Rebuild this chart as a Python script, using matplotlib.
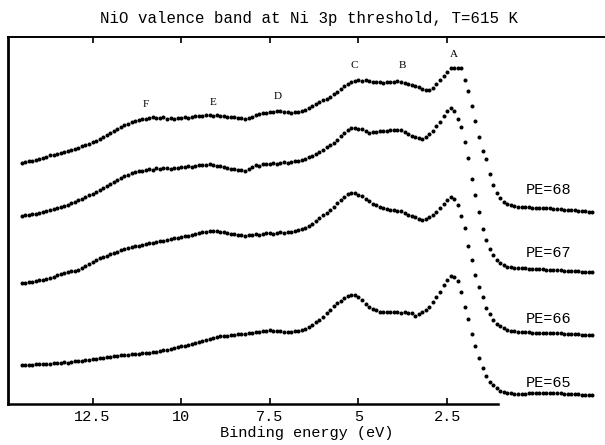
import numpy as np
import matplotlib
matplotlib.use("Agg")
import matplotlib.pyplot as plt

# Binding energy grid (eV), 0.1 eV step, from 14.5 down to -1.6
energy = np.round(np.arange(14.5, -1.65, -0.1), 2)

# Stacked spectra (arbitrary units, already vertically offset as in the figure)
pe68 = [24.1,24.2,24.3,24.3,24.4,24.5,24.6,24.7,24.9,24.9,
        25.0,25.1,25.2,25.3,25.4,25.5,25.6,25.8,25.9,26.0,
        26.2,26.3,26.5,26.7,26.9,27.1,27.3,27.5,27.7,27.9,
        28.0,28.2,28.3,28.4,28.5,28.5,28.6,28.7,28.6,28.6,
        28.7,28.5,28.6,28.5,28.6,28.6,28.7,28.6,28.7,28.8,
        28.8,28.8,28.9,28.9,28.8,28.9,28.8,28.8,28.7,28.7,
        28.7,28.6,28.6,28.5,28.6,28.7,28.9,29.0,29.1,29.1,
        29.2,29.2,29.3,29.3,29.2,29.2,29.1,29.2,29.2,29.3,
        29.4,29.6,29.8,30.0,30.2,30.4,30.5,30.7,31.0,31.2,
        31.5,31.8,32.0,32.2,32.3,32.4,32.3,32.4,32.3,32.2,
        32.2,32.2,32.1,32.2,32.2,32.2,32.3,32.2,32.1,32.0,
        31.9,31.8,31.7,31.5,31.4,31.4,31.6,32.0,32.4,32.8,
        33.2,33.6,33.6,33.6,33.6,32.4,31.3,29.8,28.3,26.7,
        25.3,24.5,23.0,21.9,21.1,20.6,20.2,20.0,19.9,19.8,
        19.7,19.7,19.7,19.7,19.6,19.6,19.6,19.6,19.6,19.6,
        19.5,19.5,19.5,19.4,19.4,19.4,19.4,19.3,19.3,19.3,
        19.2,19.2]

pe67 = [18.8,18.9,18.9,19.0,19.0,19.1,19.2,19.3,19.4,19.5,
        19.6,19.7,19.8,19.9,20.1,20.2,20.4,20.5,20.7,20.9,
        21.0,21.2,21.4,21.6,21.8,22.0,22.2,22.4,22.6,22.8,
        22.9,23.1,23.2,23.3,23.3,23.4,23.5,23.4,23.6,23.5,
        23.6,23.6,23.5,23.6,23.6,23.7,23.7,23.8,23.7,23.8,
        23.9,23.9,23.9,24.0,23.9,23.8,23.8,23.7,23.6,23.5,
        23.5,23.4,23.4,23.3,23.5,23.7,23.9,23.8,24.0,24.0,
        24.0,24.1,24.0,24.1,24.2,24.1,24.2,24.3,24.3,24.4,
        24.5,24.7,24.8,25.0,25.2,25.4,25.7,25.9,26.1,26.4,
        26.8,27.1,27.4,27.6,27.6,27.5,27.5,27.3,27.1,27.2,
        27.2,27.3,27.3,27.3,27.4,27.4,27.4,27.4,27.2,27.0,
        26.8,26.7,26.6,26.5,26.7,27.0,27.3,27.8,28.2,28.8,
        29.3,29.6,29.3,28.5,27.7,26.2,24.6,22.5,20.9,19.2,
        17.5,16.4,15.5,14.9,14.4,14.1,13.9,13.7,13.7,13.6,
        13.6,13.6,13.6,13.5,13.5,13.5,13.5,13.5,13.4,13.4,
        13.4,13.4,13.4,13.3,13.3,13.3,13.3,13.3,13.2,13.2,
        13.2,13.2]

pe66 = [12.1,12.1,12.2,12.2,12.3,12.4,12.4,12.5,12.6,12.7,
        12.9,13.0,13.1,13.2,13.3,13.3,13.4,13.6,13.8,14.0,
        14.2,14.4,14.6,14.7,14.8,15.0,15.1,15.2,15.4,15.5,
        15.6,15.7,15.8,15.8,15.9,16.0,16.1,16.1,16.2,16.3,
        16.3,16.4,16.5,16.6,16.6,16.7,16.8,16.8,16.9,17.0,
        17.1,17.2,17.2,17.3,17.3,17.3,17.2,17.2,17.1,17.0,
        17.0,16.9,16.9,16.8,16.9,16.9,17.0,16.9,17.0,17.1,
        17.1,17.0,17.1,17.2,17.1,17.2,17.2,17.3,17.4,17.5,
        17.6,17.8,18.0,18.3,18.6,18.9,19.1,19.4,19.7,20.1,
        20.4,20.7,21.0,21.1,21.1,20.9,20.8,20.5,20.3,20.0,
        19.9,19.7,19.6,19.5,19.4,19.4,19.3,19.3,19.1,18.9,
        18.8,18.7,18.5,18.4,18.5,18.7,18.9,19.2,19.6,20.0,
        20.4,20.7,20.5,19.9,18.8,17.6,15.8,14.4,12.9,11.7,
        10.7,9.6,9.0,8.4,8.0,7.8,7.6,7.4,7.3,7.3,
        7.2,7.2,7.2,7.2,7.1,7.1,7.1,7.1,7.1,7.1,
        7.1,7.1,7.1,7.0,7.0,7.0,7.0,7.0,6.9,6.9,
        6.9,6.9]

pe65 = [3.9,3.9,3.9,3.9,4.0,4.0,4.0,4.0,4.0,4.1,
        4.1,4.1,4.2,4.1,4.2,4.3,4.3,4.3,4.4,4.4,
        4.5,4.5,4.6,4.6,4.7,4.7,4.8,4.8,4.9,4.9,
        4.9,5.0,5.0,5.0,5.1,5.1,5.1,5.2,5.2,5.3,
        5.4,5.4,5.5,5.6,5.7,5.8,5.8,5.9,6.0,6.1,
        6.2,6.3,6.4,6.5,6.6,6.7,6.8,6.8,6.8,6.9,
        6.9,7.0,7.0,7.0,7.1,7.1,7.2,7.2,7.3,7.3,
        7.4,7.3,7.3,7.3,7.2,7.2,7.2,7.3,7.3,7.4,
        7.5,7.7,7.9,8.2,8.4,8.7,9.1,9.4,9.8,10.1,
        10.3,10.6,10.8,10.9,10.9,10.7,10.4,10.0,9.7,9.5,
        9.4,9.2,9.2,9.2,9.2,9.2,9.2,9.1,9.2,9.1,
        9.1,8.8,9.0,9.2,9.4,9.7,10.2,10.7,11.2,11.9,
        12.4,12.8,12.7,12.3,11.2,9.7,8.5,7.0,5.8,4.6,
        3.6,2.8,2.2,1.9,1.6,1.3,1.2,1.1,1.1,1.0,
        1.0,1.0,1.0,1.1,1.1,1.1,1.1,1.1,1.1,1.1,
        1.1,1.1,1.1,1.0,1.0,1.0,1.0,1.0,0.9,0.9,
        0.9,0.9]

series = [pe68, pe67, pe66, pe65]
series_labels = ["PE=68", "PE=67", "PE=66", "PE=65"]
label_y = [21.4, 15.1, 8.5, 2.1]
label_x = -0.35

peak_names = ["F", "E", "D", "C", "B", "A"]
peak_x = [11.0, 9.09, 7.28, 5.12, 3.76, 2.30]
peak_y = [29.9, 30.1, 30.7, 33.8, 33.8, 34.9]

tick_vals = [12.5, 10, 7.5, 5, 2.5]
tick_text = ["12.5", "10", "7.5", "5", "2.5"]

mono = "Liberation Mono"
serif = "Liberation Serif"

fig = plt.figure(figsize=(6.05, 4.45), dpi=100)
ax = fig.add_axes([0.014, 0.0921, 0.986, 0.8248])

for s in series:
    ax.plot(energy, s, linestyle="none", marker="o", markersize=2.9,
            markerfacecolor="black", markeredgecolor="black", markeredgewidth=0)

for name, x, y in zip(peak_names, peak_x, peak_y):
    ax.text(x, y, name, family=serif, fontsize=8, ha="center", va="center")

for lab, y in zip(series_labels, label_y):
    ax.text(label_x, y, lab, family=mono, fontsize=11, ha="center", va="center")

ax.set_xlim(14.87, -1.954)
ax.set_ylim(0, 36.7)
ax.set_yticks([])
ax.set_xticks(tick_vals)
ax.set_xticklabels(tick_text, family=mono, fontsize=11)
ax.tick_params(axis="x", direction="in", length=4, width=1.2, top=True,
               bottom=True, pad=4)
ax.spines["right"].set_visible(False)
ax.spines["left"].set_linewidth(2)
ax.spines["bottom"].set_linewidth(1.8)
ax.spines["top"].set_linewidth(1.4)
ax.spines["bottom"].set_bounds(14.87, 1.06)

ax.set_xlabel("Binding energy (eV)", family=mono, fontsize=11, labelpad=2)
fig.text(0.51, 1 - 19.0 / 445, "NiO valence band at Ni 3p threshold, T=615 K",
         family=mono, fontsize=11.3, ha="center", va="center")

fig.savefig("out.png", dpi=100)
